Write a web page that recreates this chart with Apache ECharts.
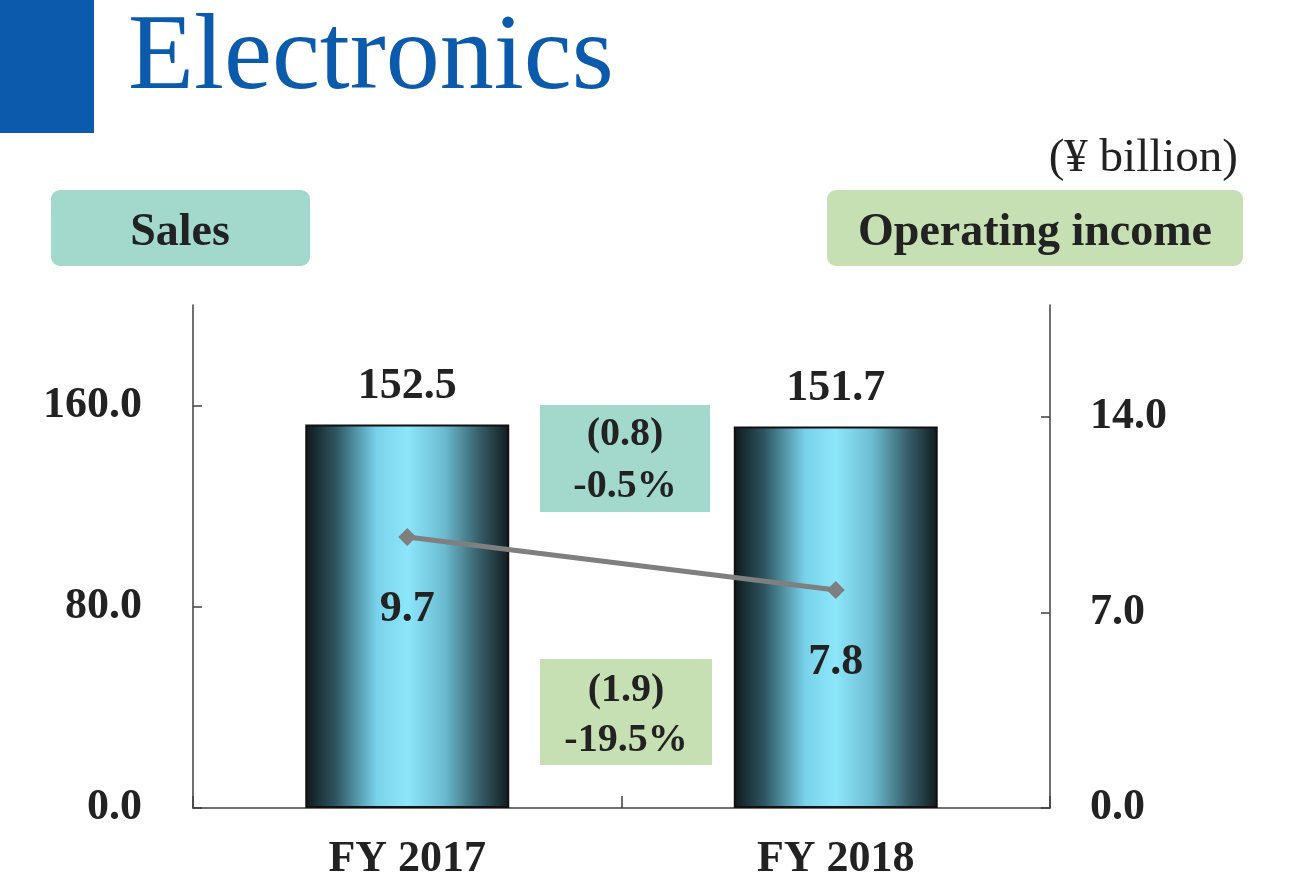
<!DOCTYPE html>
<html>
<head>
<meta charset="utf-8">
<title>Electronics</title>
<script src="https://cdn.jsdelivr.net/npm/echarts@6/dist/echarts.min.js"></script>
<style>
  html, body { margin: 0; padding: 0; background: #fff; }
  #chart { width: 1304px; height: 891px; }
</style>
</head>
<body>
<div id="chart"></div>
<script>
// datos
const categorias = ['FY 2017', 'FY 2018'];
const ventas = [152.5, 151.7];
const ingresoOperativo = [9.7, 7.8];
const ticksVentas = [0, 80, 160];
const ticksIngreso = [0, 7, 14];
const difVentas = ['(0.8)', '-0.5%'];
const difIngreso = ['(1.9)', '-19.5%'];

const fuente = '"Liberation Serif", "Times New Roman", serif';
const azul = '#0b5aab';
const verdeAgua = '#a2d9cc';
const verdeClaro = '#c6e0b4';
const texto = '#222';

const chart = echarts.init(document.getElementById('chart'));

const degradado = new echarts.graphic.LinearGradient(0, 0, 1, 0, [
  { offset: 0, color: '#0e181b' },
  { offset: 0.15, color: '#2e5561' },
  { offset: 0.35, color: '#78d2ea' },
  { offset: 0.5, color: '#8de6fa' },
  { offset: 0.68, color: '#6cbcd1' },
  { offset: 0.85, color: '#37606b' },
  { offset: 1, color: '#111b1e' }
]);

const ejeComun = {
  axisLine: { show: true, lineStyle: { color: '#404040', width: 1.5 } },
  axisTick: { show: true, inside: true, length: 9, lineStyle: { color: '#404040', width: 1.5 } },
  splitLine: { show: false },
  axisLabel: {
    color: texto,
    fontFamily: fuente,
    fontWeight: 'bold',
    fontSize: 44,
    formatter: v => v.toFixed(1)
  }
};

function etiqueta(txt, x, y, tam, negrita) {
  return {
    type: 'text', x: x, y: y,
    style: {
      text: txt, fill: texto,
      font: (negrita ? 'bold ' : '') + tam + 'px ' + fuente,
      align: 'center', verticalAlign: 'middle'
    }
  };
}

const option = {
  animation: false,
  backgroundColor: '#fff',
  grid: { left: 193, right: 254, top: 305, bottom: 83 },
  xAxis: {
    type: 'category',
    data: categorias,
    axisLine: { show: true, lineStyle: { color: '#404040', width: 1.5 } },
    axisTick: { show: true, inside: true, length: 12, lineStyle: { color: '#404040', width: 1.5 } },
    axisLabel: { color: texto, fontFamily: fuente, fontWeight: 'bold', fontSize: 44, margin: 30 }
  },
  yAxis: [
    Object.assign({}, ejeComun, {
      type: 'value', min: 0, max: 200,
      axisTick: Object.assign({}, ejeComun.axisTick, { customValues: ticksVentas }),
      axisLabel: Object.assign({}, ejeComun.axisLabel, { customValues: ticksVentas, margin: 51 })
    }),
    Object.assign({}, ejeComun, {
      type: 'value', min: 0, max: 18, position: 'right',
      axisTick: Object.assign({}, ejeComun.axisTick, { customValues: ticksIngreso }),
      axisLabel: Object.assign({}, ejeComun.axisLabel, { customValues: ticksIngreso, margin: 40 })
    })
  ],
  series: [
    {
      name: 'Sales',
      type: 'bar',
      data: ventas,
      barWidth: '47.6%',
      itemStyle: { color: degradado, borderColor: '#111', borderWidth: 2 },
      label: {
        show: true, position: 'top', distance: 16,
        color: texto, fontFamily: fuente, fontWeight: 'bold', fontSize: 44,
        formatter: p => p.value.toFixed(1)
      },
      z: 2
    },
    {
      name: 'Operating income',
      type: 'line',
      yAxisIndex: 1,
      data: ingresoOperativo,
      symbol: 'diamond',
      symbolSize: 18,
      lineStyle: { color: '#7f7f7f', width: 5 },
      itemStyle: { color: '#7f7f7f' },
      label: {
        show: true, position: 'bottom', distance: 42,
        color: texto, fontFamily: fuente, fontWeight: 'bold', fontSize: 44,
        formatter: p => p.value.toFixed(1)
      },
      z: 5
    }
  ],
  graphic: [
    { type: 'rect', x: 0, y: 0, shape: { width: 94, height: 133 }, style: { fill: azul } },
    {
      type: 'text', x: 128, y: 6,
      style: { text: 'Electronics', fill: azul, font: '108px ' + fuente, align: 'left', verticalAlign: 'top' }
    },
    {
      type: 'text', x: 1238, y: 159,
      style: { text: '(¥ billion)', fill: texto, font: '47px ' + fuente, align: 'right', verticalAlign: 'middle' }
    },
    { type: 'rect', x: 51, y: 190, shape: { width: 259, height: 76, r: 9 }, style: { fill: verdeAgua } },
    etiqueta('Sales', 180, 233, 46, true),
    { type: 'rect', x: 827, y: 190, shape: { width: 416, height: 76, r: 9 }, style: { fill: verdeClaro } },
    etiqueta('Operating income', 1035, 233, 46, true),
    { type: 'rect', x: 540, y: 405, shape: { width: 170, height: 107 }, style: { fill: verdeAgua } },
    etiqueta(difVentas[0], 625, 435, 40, true),
    etiqueta(difVentas[1], 625, 487, 40, true),
    { type: 'rect', x: 540, y: 659, shape: { width: 172, height: 106 }, style: { fill: verdeClaro } },
    etiqueta(difIngreso[0], 626, 691, 40, true),
    etiqueta(difIngreso[1], 626, 741, 40, true)
  ]
};

chart.setOption(option);
</script>
</body>
</html>
